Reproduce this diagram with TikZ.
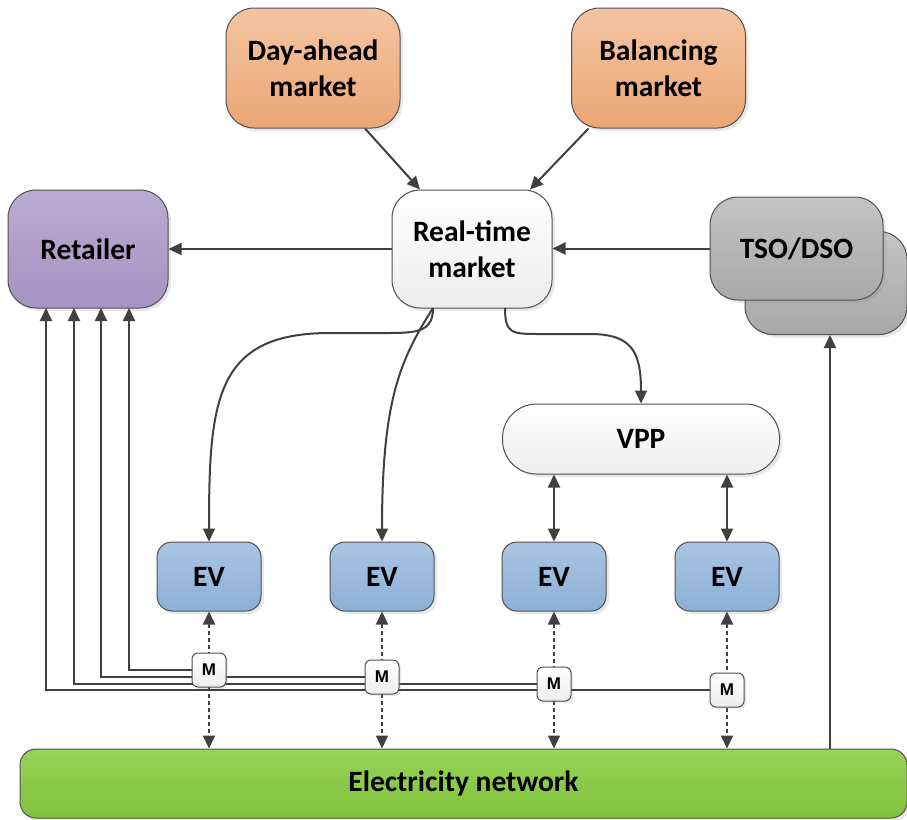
\documentclass[tikz,border=0pt]{standalone}
\usepackage{fontspec}
\setmainfont{Carlito}
\newfontfamily\mfont{Liberation Sans}
\usetikzlibrary{arrows.meta,shadows,calc}

\definecolor{linec}{HTML}{404040}
\definecolor{edgec}{HTML}{505050}
\definecolor{orangeT}{HTML}{F3C5A2}
\definecolor{orangeB}{HTML}{ECA675}
\definecolor{purpleT}{HTML}{B9ACD2}
\definecolor{purpleB}{HTML}{A593C1}
\definecolor{grayT}{HTML}{C4C4C4}
\definecolor{grayB}{HTML}{A8A8A8}
\definecolor{blueT}{HTML}{A9C4E2}
\definecolor{blueB}{HTML}{8DB0D5}
\definecolor{greenT}{HTML}{97D357}
\definecolor{greenB}{HTML}{80C23C}
\definecolor{whiteB}{HTML}{EDEDED}

\tikzset{
  x=1pt, y=-1pt,
  box/.style={draw=edgec, line width=1pt, rounded corners=#1, align=center,
    font=\fontsize{29.5}{36}\selectfont\bfseries, inner sep=0pt,
    drop shadow={opacity=0.18, shadow xshift=3pt, shadow yshift=-3pt}},
  box/.default=28pt,
  marketbox/.style={box, top color=orangeT, bottom color=orangeB,
    minimum width=174pt, minimum height=120pt},
  midbox/.style={box, top color=purpleT, bottom color=purpleB,
    minimum width=160pt, minimum height=118pt},
  rtbox/.style={box, top color=white, bottom color=whiteB,
    minimum width=160pt, minimum height=118pt},
  tsobox/.style={box, top color=grayT, bottom color=grayB,
    minimum width=173pt, minimum height=103pt},
  evbox/.style={box=15pt, top color=blueT, bottom color=blueB,
    minimum width=104pt, minimum height=69pt},
  vppbox/.style={box=34pt, top color=white, bottom color=whiteB,
    minimum width=277pt, minimum height=70pt},
  netbox/.style={box=16pt, top color=greenT, bottom color=greenB,
    minimum width=887pt, minimum height=69pt},
  meter/.style={draw=edgec, line width=1pt, rounded corners=6pt,
    top color=white, bottom color=whiteB, minimum width=34pt, minimum height=34pt,
    inner sep=0pt, font=\mfont\fontsize{17}{17}\selectfont\bfseries,
    drop shadow={opacity=0.18, shadow xshift=2pt, shadow yshift=-2pt}},
  flow/.style={draw=linec, line width=2pt,
    -{Triangle[length=13pt,width=12pt]}},
  dflow/.style={draw=linec, line width=2pt, dash pattern=on 4pt off 3pt,
    {Triangle[length=13pt,width=12pt]}-{Triangle[length=13pt,width=12pt]}},
  bflow/.style={draw=linec, line width=2pt,
    {Triangle[length=13pt,width=12pt]}-{Triangle[length=13pt,width=12pt]}}
}

\begin{document}
\begin{tikzpicture}
\useasboundingbox (0,0) rectangle (907,819);

% markets
\node[marketbox] (da) at (313,68) {Day-ahead\\market};
\node[marketbox] (bal) at (658.5,68) {Balancing\\market};
\node[midbox] (ret) at (88,249) {Retailer};
\node[rtbox] (rt) at (472,249) {Real-time\\market};

% TSO/DSO stack
\node[tsobox, minimum width=162pt] (tsoback) at (826,283) {};
\node[tsobox] (tso) at (796.5,248.5) {TSO/DSO};

% VPP, EVs and network
\node[vppbox] (vpp) at (641,439) {VPP};
\node[evbox] (ev1) at (209,576.5) {EV};
\node[evbox] (ev2) at (382,576.5) {EV};
\node[evbox] (ev3) at (554,576.5) {EV};
\node[evbox] (ev4) at (727,576.5) {EV};
\node[netbox] (net) at (463.5,783.5) {Electricity network};

% market links
\draw[flow] ($(da.south)+(52,0)$) -- ($(rt.north)+(-52,0)$);
\draw[flow] ($(bal.south)+(-70,0)$) -- ($(rt.north)+(58,0)$);
\draw[flow] (rt.west) -- (ret.east);
\draw[flow] (tso.west) -- (tso.west -| rt.east);

% real-time market to EVs and VPP
\coordinate (rtA) at (433,308);
\coordinate (rtB) at (505,308);
\draw[flow] (rtA) .. controls (433,330) and (420,333) .. (390,333)
  -- (330,333) .. controls (215,333) and (209,400) .. (ev1.north);
\draw[flow] (rtA) .. controls (400,360) and (382,400) .. (ev2.north);
\draw[flow] (rtB) .. controls (505,334) and (512,334) .. (540,334)
  -- (590,334) .. controls (632,334) and (641,352) .. (vpp.north);

% VPP to its EVs
\draw[bflow] (vpp.south -| ev3.north) -- (ev3.north);
\draw[bflow] (vpp.south -| ev4.north) -- (ev4.north);

% network to TSO/DSO
\coordinate (netT) at (830,749);
\draw[flow] (netT) -- (netT |- tsoback.south);

% metering points
\coordinate (m1) at (209,670);
\coordinate (m2) at (382,677);
\coordinate (m3) at (554,684);
\coordinate (m4) at (727,690);
\coordinate (r1) at (46,308);
\coordinate (r2) at (74,308);
\coordinate (r3) at (101,308);
\coordinate (r4) at (129,308);

\draw[flow] (m4) -| (r1);
\draw[flow] (m3) -| (r2);
\draw[flow] (m2) -| (r3);
\draw[flow] (m1) -| (r4);

\foreach \i in {1,...,4}
  \draw[dflow] (ev\i.south) -- (ev\i.south |- net.north);

\node[meter] (M1) at (m1) {M};
\node[meter] (M2) at (m2) {M};
\node[meter] (M3) at (m3) {M};
\node[meter] (M4) at (m4) {M};
\end{tikzpicture}
\end{document}
